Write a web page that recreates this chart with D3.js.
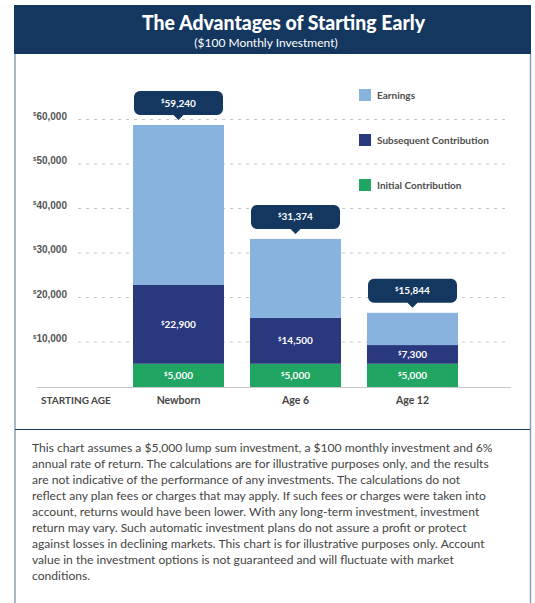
<!DOCTYPE html>
<html>
<head>
<meta charset="utf-8">
<script src="https://cdn.jsdelivr.net/npm/d3@7"></script>
<style>
body { margin: 0; background: #fff; }
svg { display: block; font-family: Lato, "Open Sans", sans-serif; }
</style>
</head>
<body>
<div id="chart"></div>
<script>
const categories = ["Newborn", "Age 6", "Age 12"];
const seriesNames = ["Initial Contribution", "Subsequent Contribution", "Earnings"];
// segment sizes as they are drawn in the picture
const initialContribution = [5000, 5000, 5000];
const subsequentContribution = [17700, 10300, 4200];
const earnings = [35950, 17750, 7250];
// values printed on the bars
const initialLabels = [5000, 5000, 5000];
const subsequentLabels = [22900, 14500, 7300];
const totalLabels = [59240, 31374, 15844];
const yTicks = [10000, 20000, 30000, 40000, 50000, 60000];
const legendOrder = ["Earnings", "Subsequent Contribution", "Initial Contribution"];
const disclaimerLines = [
    "This chart assumes a $5,000 lump sum investment, a $100 monthly investment and 6%",
    "annual rate of return. The calculations are for illustrative purposes only, and the results",
    "are not indicative of the performance of any investments. The calculations do not",
    "reflect any plan fees or charges that may apply. If such fees or charges were taken into",
    "account, returns would have been lower. With any long-term investment, investment",
    "return may vary. Such automatic investment plans do not assure a profit or protect",
    "against losses in declining markets. This chart is for illustrative purposes only. Account",
    "value in the investment options is not guaranteed and will fluctuate with market",
    "conditions."
];

const width = 535, height = 603;
const navy = "#143760";
const color = d3.scaleOrdinal()
    .domain(seriesNames)
    .range(["#21a562", "#2a387e", "#89b3df"]);
const fmt = d3.format(",");

const svg = d3.select("#chart").append("svg")
    .attr("width", width)
    .attr("height", height);

// frame + header
svg.append("line").attr("x1", 15).attr("x2", 15).attr("y1", 54).attr("y2", height)
    .attr("stroke", "#8c9fba").attr("stroke-width", 1.5);
svg.append("line").attr("x1", 530.5).attr("x2", 530.5).attr("y1", 54).attr("y2", height)
    .attr("stroke", "#8c9fba").attr("stroke-width", 1.5);
svg.append("rect").attr("x", 14).attr("y", 5).attr("width", 517).attr("height", 49).attr("fill", navy);
svg.append("text")
    .attr("x", 142).attr("y", 30)
    .attr("textLength", 283).attr("lengthAdjust", "spacingAndGlyphs")
    .attr("fill", "#fff").attr("font-size", 21).attr("font-weight", 900)
    .text("The Advantages of Starting Early");
svg.append("text")
    .attr("x", 266).attr("y", 47).attr("text-anchor", "middle")
    .attr("fill", "#fff").attr("font-size", 12)
    .text("($100 Monthly Investment)");
svg.append("line").attr("x1", 15).attr("x2", 530).attr("y1", 429.5).attr("y2", 429.5)
    .attr("stroke", "#1f3b62").attr("stroke-width", 1);

// scales
const x = d3.scaleBand().domain(categories).range([120, 471]).paddingInner(0.222).paddingOuter(0.111);
const y = d3.scaleLinear().domain([0, 60000]).range([386, 119]);

function dollar(sel, value, size) {
    sel.append("tspan").attr("font-size", size * 0.6).attr("dy", -size * 0.33).text("$");
    sel.append("tspan").attr("font-size", size).attr("dy", size * 0.33).text(fmt(value));
}

// grid via axis
const yAxis = d3.axisLeft(y).tickValues(yTicks).tickSize(-430).tickPadding(11).tickFormat("");
const grid = svg.append("g").attr("transform", "translate(78,0)").call(yAxis);
grid.select(".domain").remove();
grid.selectAll(".tick line").attr("stroke", "#c6c6c6").attr("stroke-dasharray", "3,5");
grid.selectAll(".tick text")
    .attr("fill", "#555").attr("font-weight", 700).attr("dy", "0.45em")
    .each(function(d) { dollar(d3.select(this), d, 10); });

// bars
const rows = categories.map((c, i) => ({
    age: c,
    "Initial Contribution": initialContribution[i],
    "Subsequent Contribution": subsequentContribution[i],
    "Earnings": earnings[i]
}));
const stacked = d3.stack().keys(seriesNames)(rows);

svg.append("g").selectAll("g").data(stacked).join("g")
    .attr("fill", d => color(d.key))
    .selectAll("rect").data(d => d).join("rect")
    .attr("x", d => x(d.data.age))
    .attr("width", x.bandwidth())
    .attr("y", d => y(d[1]))
    .attr("height", d => y(d[0]) - y(d[1]) + (d[0] === 0 ? 1 : 0));

// axis baseline
svg.append("line").attr("x1", 37).attr("x2", 511).attr("y1", 387.5).attr("y2", 387.5)
    .attr("stroke", "#c8c8c8").attr("stroke-width", 1);

// segment labels
const segLabels = [initialLabels, subsequentLabels];
stacked.slice(0, 2).forEach((layer, li) => {
    svg.append("g").selectAll("text").data(layer).join("text")
        .attr("x", d => x(d.data.age) + x.bandwidth() / 2)
        .attr("y", d => (y(d[0]) + (d[0] === 0 ? 1 : 0) + y(d[1])) / 2 + 3.5)
        .attr("text-anchor", "middle")
        .attr("fill", "#fff").attr("font-weight", 700)
        .each(function(d, i) { dollar(d3.select(this), segLabels[li][i], 10); });
});

// callouts
const tops = stacked[stacked.length - 1];
const callouts = svg.append("g").selectAll("g").data(tops).join("g");
callouts.append("path")
    .attr("fill", navy)
    .attr("d", d => {
        const x0 = x(d.data.age) + 1, x1 = x0 + x.bandwidth() - 2;
        const yb = y(d[1]) - 10, yt = yb - 24, r = 6;
        const cx = (x0 + x1) / 2;
        const p = d3.path();
        p.moveTo(x0 + r, yt);
        p.lineTo(x1 - r, yt);
        p.arcTo(x1, yt, x1, yt + r, r);
        p.lineTo(x1, yb - r);
        p.arcTo(x1, yb, x1 - r, yb, r);
        p.lineTo(cx + 5, yb);
        p.lineTo(cx, yb + 5);
        p.lineTo(cx - 5, yb);
        p.lineTo(x0 + r, yb);
        p.arcTo(x0, yb, x0, yb - r, r);
        p.lineTo(x0, yt + r);
        p.arcTo(x0, yt, x0 + r, yt, r);
        p.closePath();
        return p.toString();
    });
callouts.append("text")
    .attr("x", d => x(d.data.age) + x.bandwidth() / 2)
    .attr("y", d => y(d[1]) - 18.5)
    .attr("text-anchor", "middle")
    .attr("fill", "#fff").attr("font-weight", 700)
    .each(function(d, i) { dollar(d3.select(this), totalLabels[i], 10); });

// category labels
svg.append("g").selectAll("text").data(categories).join("text")
    .attr("x", d => x(d) + x.bandwidth() / 2)
    .attr("y", 404)
    .attr("text-anchor", "middle")
    .attr("fill", "#454545").attr("font-size", 10.5).attr("font-weight", 700)
    .text(d => d);
svg.append("text")
    .attr("x", 41).attr("y", 404)
    .attr("fill", "#454545").attr("font-size", 10).attr("font-weight", 700)
    .text("STARTING AGE");

// legend
const legend = svg.append("g").selectAll("g").data(legendOrder).join("g")
    .attr("transform", (d, i) => `translate(359,${89 + i * 45})`);
legend.append("rect").attr("width", 12).attr("height", 12).attr("fill", d => color(d));
legend.append("text").attr("x", 18).attr("y", 9.5)
    .attr("fill", "#4d4d4d").attr("font-size", 10).attr("font-weight", 700)
    .text(d => d);

// disclaimer
svg.append("g").selectAll("text").data(disclaimerLines).join("text")
    .attr("x", 32)
    .attr("y", (d, i) => 452 + i * 16)
    .attr("fill", "#444").attr("font-size", 12.1)
    .text(d => d);
</script>
</body>
</html>
